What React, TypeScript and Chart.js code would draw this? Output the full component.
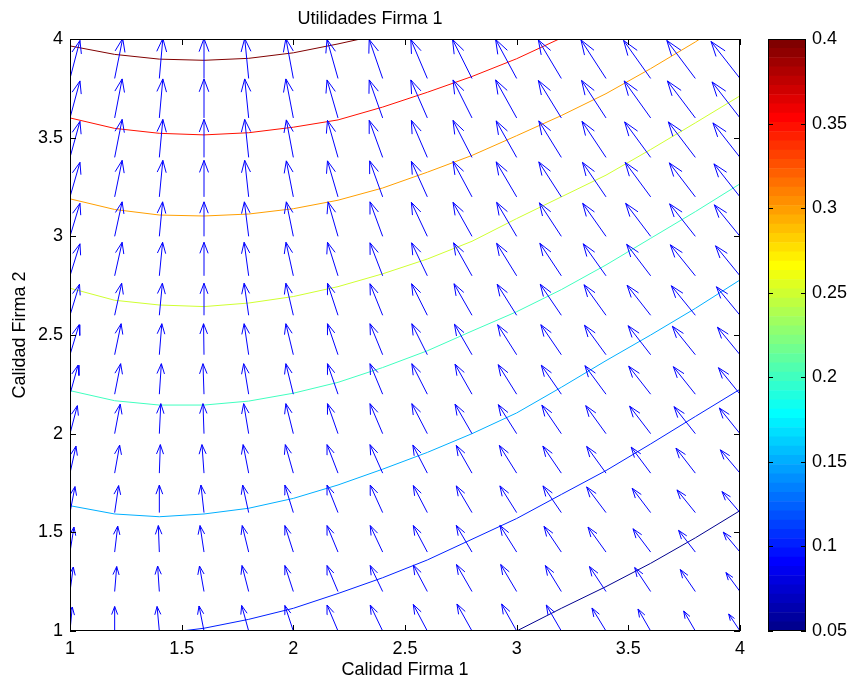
import React, { useEffect, useRef } from 'react';
import { Chart, registerables } from 'chart.js';

Chart.register(...registerables);

const FONT_FAMILY = "'Liberation Sans', Arial, Helvetica, sans-serif";
const FONT_SIZE = 18;

const TITLE = 'Utilidades Firma 1';
const X_LABEL = 'Calidad Firma 1';
const Y_LABEL = 'Calidad Firma 2';

const X_TICKS = [1, 1.5, 2, 2.5, 3, 3.5, 4];
const X_TICK_LABELS = ['1', '1.5', '2', '2.5', '3', '3.5', '4'];
const Y_TICKS = [1, 1.5, 2, 2.5, 3, 3.5, 4];
const Y_TICK_LABELS = ['1', '1.5', '2', '2.5', '3', '3.5', '4'];

const CB_MIN = 0.05;
const CB_MAX = 0.4;
const CB_COLORS = 64;
const CB_TICKS = [0.05, 0.1, 0.15, 0.2, 0.25, 0.3, 0.35, 0.4];
const CB_TICK_LABELS = ['0.05', '0.1', '0.15', '0.2', '0.25', '0.3', '0.35', '0.4'];

// contour lines (level -> points)
const LEVEL_005_X = [3.0, 3.2, 3.4, 3.6, 3.8, 4.0];
const LEVEL_005_Y = [1.0, 1.115, 1.225, 1.343, 1.472, 1.61];
const LEVEL_010_X = [1.5, 1.6, 1.8, 2.0, 2.2, 2.4, 2.6, 2.8, 3.0, 3.2, 3.4, 3.6, 3.8, 4.0];
const LEVEL_010_Y = [1.0, 1.014, 1.059, 1.115, 1.19, 1.27, 1.36, 1.465, 1.57, 1.692, 1.813, 1.948, 2.087, 2.225];
const LEVEL_015_X = [1, 1.2, 1.4, 1.6, 1.8, 2, 2.2, 2.4, 2.6, 2.8, 3, 3.2, 3.4, 3.6, 3.8, 4];
const LEVEL_015_Y = [1.635, 1.593, 1.579, 1.593, 1.622, 1.672, 1.74, 1.82, 1.905, 2.0, 2.105, 2.235, 2.37, 2.5, 2.635, 2.779];
const LEVEL_020_X = [1, 1.2, 1.4, 1.6, 1.8, 2, 2.2, 2.4, 2.6, 2.8, 3, 3.2, 3.4, 3.6, 3.8, 4];
const LEVEL_020_Y = [2.218, 2.167, 2.145, 2.145, 2.165, 2.205, 2.26, 2.335, 2.42, 2.52, 2.618, 2.73, 2.855, 2.99, 3.125, 3.266];
const LEVEL_025_X = [1, 1.2, 1.4, 1.6, 1.8, 2, 2.2, 2.4, 2.6, 2.8, 3, 3.2, 3.4, 3.6, 3.8, 4];
const LEVEL_025_Y = [2.737, 2.676, 2.652, 2.644, 2.662, 2.695, 2.745, 2.81, 2.885, 2.975, 3.09, 3.2, 3.31, 3.44, 3.575, 3.712];
const LEVEL_030_X = [1, 1.2, 1.4, 1.6, 1.8, 2, 2.2, 2.4, 2.6, 2.8, 3, 3.2, 3.4, 3.6, 3.8, 3.82];
const LEVEL_030_Y = [3.19, 3.136, 3.108, 3.103, 3.113, 3.14, 3.183, 3.245, 3.325, 3.41, 3.51, 3.612, 3.723, 3.85, 3.985, 4.0];
const LEVEL_035_X = [1, 1.2, 1.4, 1.6, 1.8, 2, 2.2, 2.4, 2.6, 2.8, 3, 3.19];
const LEVEL_035_Y = [3.6, 3.547, 3.522, 3.514, 3.525, 3.553, 3.59, 3.655, 3.73, 3.81, 3.9, 4.0];
const LEVEL_040_X = [1, 1.2, 1.4, 1.6, 1.8, 2, 2.2, 2.3];
const LEVEL_040_Y = [3.965, 3.922, 3.898, 3.892, 3.902, 3.93, 3.975, 4.0];

// quiver grid
const GRID_X = [1, 1.2, 1.4, 1.6, 1.8, 2, 2.2, 2.4, 2.6, 2.8, 3, 3.2, 3.4, 3.6, 3.8, 4];
const GRID_Y = [1, 1.2, 1.4, 1.6, 1.8, 2, 2.2, 2.4, 2.6, 2.8, 3, 3.2, 3.4, 3.6, 3.8];

// gradient components (arbitrary units), one row per GRID_Y value
const GRAD_X = [
  [2.0, 0, -2.0, -4.4, -6.2, -7.5, -9.7, -11.0, -12.4, -13.3, -13.3, -13.3, -12.4, -11.2, -10.3, -10.0],
  [2.9, 1.8, -1.5, -4.0, -5.9, -7.5, -9.7, -11.0, -12.4, -13.7, -14.1, -14.1, -14.6, -14.1, -13.3, -12.4],
  [3.5, 2.7, -0.9, -3.5, -5.7, -7.5, -9.7, -11.0, -12.4, -13.9, -14.8, -15.3, -15.9, -15.6, -14.8, -14.8],
  [4.4, 3.5, 0, -2.7, -5.3, -7.5, -9.7, -11.0, -12.4, -13.9, -14.8, -16.2, -17.1, -16.3, -16.2, -15.9],
  [5.3, 4.4, 0.9, -1.8, -4.9, -7.1, -9.7, -11.2, -12.8, -13.9, -15.3, -16.3, -17.1, -17.2, -17.1, -17.4],
  [6.5, 4.9, 1.3, -0.9, -4.4, -6.6, -9.3, -11.2, -13.7, -15.0, -16.2, -17.2, -17.9, -18.6, -18.8, -18.3],
  [7.1, 5.3, 1.8, -0.9, -4.4, -6.6, -9.3, -11.2, -13.7, -15.0, -16.3, -17.7, -18.6, -19.4, -19.4, -19.0],
  [8.0, 5.7, 2.2, -0.4, -4.0, -6.6, -9.3, -11.2, -13.7, -15.5, -16.8, -18.1, -19.0, -19.9, -20.3, -19.9],
  [8.4, 6.2, 2.7, 0, -4.0, -6.6, -9.3, -11.2, -13.9, -15.9, -17.2, -18.6, -19.4, -20.8, -21.2, -20.8],
  [8.8, 6.6, 2.9, 0, -4.0, -6.5, -9.3, -11.2, -13.9, -16.3, -17.7, -19.0, -20.1, -21.2, -22.1, -21.6],
  [8.8, 6.6, 2.9, 0, -3.8, -6.2, -8.8, -11.2, -14.1, -16.8, -17.7, -19.4, -20.6, -22.1, -22.7, -22.7],
  [8.8, 6.6, 3.1, 0, -3.5, -6.2, -9.3, -11.5, -14.1, -16.8, -18.1, -19.9, -20.8, -22.5, -23.0, -23.0],
  [8.8, 6.6, 3.1, 0, -3.5, -6.2, -9.3, -11.9, -14.1, -16.8, -18.1, -19.9, -21.2, -23.0, -23.9, -23.9],
  [8.8, 6.6, 3.1, 0, -3.5, -6.6, -9.7, -11.9, -14.6, -16.8, -18.6, -20.3, -21.6, -23.4, -24.7, -24.7],
  [8.8, 7.1, 3.1, 0, -3.5, -6.6, -9.7, -11.9, -14.6, -17.2, -18.6, -20.3, -22.1, -23.9, -25.2, -25.6],
];
const GRAD_Y = [
  [24, 24.5, 24.5, 25, 25.5, 25.5, 26, 26, 26.5, 27, 27, 26, 23, 22, 20, 17],
  [24.5, 25, 25.5, 25.5, 26, 26, 26, 26, 26.5, 27, 27, 26, 25, 24, 22, 19],
  [25, 26, 26.5, 26.5, 26.5, 26.5, 26.5, 26.5, 26.5, 26.7, 26.7, 25.7, 25, 23.3, 21.7, 20],
  [26, 27, 27.5, 27.5, 27.5, 27.5, 27.5, 27.5, 27, 26.7, 26.7, 26.7, 25.7, 24.3, 22.7, 21],
  [27, 28, 28.5, 28.5, 28.5, 28.5, 28.5, 28.5, 28, 27.7, 27.7, 27, 26.7, 26, 25, 23.3],
  [28, 29.5, 30, 30, 30, 30, 30, 30, 30, 29.5, 29, 28.5, 28, 27.5, 27, 25.7],
  [29, 30.5, 30.5, 30.5, 30.5, 30.5, 30.5, 30.5, 30.5, 30, 29.5, 29, 28.5, 28, 27.5, 26.5],
  [30, 31, 31, 31, 31, 31, 31, 31, 31, 30.5, 30, 30, 29.5, 29, 28.5, 27.5],
  [31, 32, 32, 32, 32, 32, 32, 31.5, 31.5, 31.5, 31, 31, 30.5, 30, 29.5, 28.5],
  [32, 33.5, 33.5, 33.5, 33.5, 33.5, 33.5, 33, 33, 33, 32.5, 32.5, 32, 31.5, 31, 30],
  [33, 34.5, 34.5, 34.5, 34.5, 34.5, 34.5, 34.5, 34, 34, 34, 33.5, 33, 33, 32.5, 31.5],
  [34.5, 36.5, 36.5, 36.5, 36.5, 36, 36, 36, 35.5, 35.5, 35, 35, 34.5, 34.5, 34, 33],
  [36, 38, 38, 38, 38, 37.5, 37, 37, 37, 37, 36.5, 36.5, 36, 35.5, 35.5, 34.5],
  [37, 39, 39, 39, 39, 39, 38, 38, 38, 38, 38, 37.5, 37.5, 37, 37, 36],
  [38, 40, 40, 40, 40, 40, 39, 39, 39, 39, 39, 38.5, 38.5, 38, 38, 37],
];

// quiver drawing parameters (styles)
const ARROW_SCALE = 0.005068;
const HEAD_ALPHA = 0.33;
const HEAD_BETA = 0.33;
const ARROW_COLOR = '#0000ff';
const TICK_LEN = 6;
const CB_TICK_LEN = 5;

function jet64(i: number): string {
  const c = (v: number) => Math.max(0, Math.min(1, v));
  const r = i <= 56 ? c((i - 24) / 16) : c(1 - (i - 56) / 16);
  const g = i <= 40 ? c((i - 8) / 16) : c(1 - (i - 40) / 16);
  const b = i <= 24 ? c((i + 8) / 16) : c(1 - (i - 24) / 16);
  return `rgb(${Math.round(r * 255)},${Math.round(g * 255)},${Math.round(b * 255)})`;
}

function levelColor(level: number): string {
  let idx = Math.floor(((level - CB_MIN) / (CB_MAX - CB_MIN)) * CB_COLORS + 1e-9) + 1;
  idx = Math.max(1, Math.min(CB_COLORS, idx));
  return jet64(idx);
}

const CONTOURS: { level: number; xs: number[]; ys: number[] }[] = [
  { level: 0.05, xs: LEVEL_005_X, ys: LEVEL_005_Y },
  { level: 0.1, xs: LEVEL_010_X, ys: LEVEL_010_Y },
  { level: 0.15, xs: LEVEL_015_X, ys: LEVEL_015_Y },
  { level: 0.2, xs: LEVEL_020_X, ys: LEVEL_020_Y },
  { level: 0.25, xs: LEVEL_025_X, ys: LEVEL_025_Y },
  { level: 0.3, xs: LEVEL_030_X, ys: LEVEL_030_Y },
  { level: 0.35, xs: LEVEL_035_X, ys: LEVEL_035_Y },
  { level: 0.4, xs: LEVEL_040_X, ys: LEVEL_040_Y },
];

function arrowPoints() {
  const pts: { x: number; y: number | null }[] = [];
  GRID_Y.forEach((y, r) => {
    GRID_X.forEach((x, c) => {
      const u = GRAD_X[r][c] * ARROW_SCALE;
      const v = GRAD_Y[r][c] * ARROW_SCALE;
      const tx = x + u;
      const ty = y + v;
      pts.push({ x, y }, { x: tx, y: ty }, { x: tx, y: null });
      pts.push(
        { x: tx - HEAD_ALPHA * (u + HEAD_BETA * v), y: ty - HEAD_ALPHA * (v - HEAD_BETA * u) },
        { x: tx, y: ty },
        { x: tx - HEAD_ALPHA * (u - HEAD_BETA * v), y: ty - HEAD_ALPHA * (v + HEAD_BETA * u) },
        { x: tx, y: null }
      );
    });
  });
  return pts;
}

const font = { family: FONT_FAMILY, size: FONT_SIZE, weight: 'normal' as const };

const mainFrame = {
  id: 'mainFrame',
  afterDatasetsDraw(chart: any) {
    const { ctx, chartArea: a, scales } = chart;
    ctx.save();
    ctx.strokeStyle = '#000';
    ctx.lineWidth = 1;
    ctx.beginPath();
    X_TICKS.forEach((v) => {
      const px = Math.round(scales.x.getPixelForValue(v)) + 0.5;
      ctx.moveTo(px, a.bottom);
      ctx.lineTo(px, a.bottom - TICK_LEN);
      ctx.moveTo(px, a.top);
      ctx.lineTo(px, a.top + TICK_LEN);
    });
    Y_TICKS.forEach((v) => {
      const py = Math.round(scales.y.getPixelForValue(v)) + 0.5;
      ctx.moveTo(a.left, py);
      ctx.lineTo(a.left + TICK_LEN, py);
      ctx.moveTo(a.right, py);
      ctx.lineTo(a.right - TICK_LEN, py);
    });
    ctx.stroke();
    ctx.strokeRect(a.left + 0.5, a.top + 0.5, a.right - a.left - 1, a.bottom - a.top - 1);
    ctx.restore();
  },
};

const cbFrame = {
  id: 'cbFrame',
  afterDatasetsDraw(chart: any) {
    const { ctx, chartArea: a, scales } = chart;
    ctx.save();
    ctx.strokeStyle = '#000';
    ctx.lineWidth = 1;
    ctx.beginPath();
    CB_TICKS.forEach((v) => {
      const py = Math.round(scales.y.getPixelForValue(v)) + 0.5;
      ctx.moveTo(a.left, py);
      ctx.lineTo(a.left + CB_TICK_LEN, py);
      ctx.moveTo(a.right, py);
      ctx.lineTo(a.right - CB_TICK_LEN, py);
    });
    ctx.stroke();
    ctx.strokeRect(a.left + 0.5, a.top + 0.5, a.right - a.left - 1, a.bottom - a.top - 1);
    ctx.restore();
  },
};

export default function App() {
  const mainRef = useRef<HTMLCanvasElement>(null);
  const cbRef = useRef<HTMLCanvasElement>(null);

  useEffect(() => {
    const datasets: any[] = CONTOURS.map((c) => ({
      label: String(c.level),
      data: c.xs.map((x, i) => ({ x, y: c.ys[i] })),
      showLine: true,
      borderColor: levelColor(c.level),
      backgroundColor: levelColor(c.level),
      borderWidth: 1,
      pointRadius: 0,
      pointHoverRadius: 0,
      fill: false,
      order: 1,
    }));
    datasets.push({
      label: 'quiver',
      data: arrowPoints(),
      showLine: true,
      spanGaps: false,
      borderColor: ARROW_COLOR,
      backgroundColor: ARROW_COLOR,
      borderWidth: 1,
      pointRadius: 0,
      pointHoverRadius: 0,
      fill: false,
      order: 0,
    });

    const main = new Chart(mainRef.current as HTMLCanvasElement, {
      type: 'scatter',
      data: { datasets },
      options: {
        responsive: false,
        animation: false,
        events: [],
        layout: { padding: { left: 0, right: 70, top: 0, bottom: 0 } },
        plugins: {
          legend: { display: false },
          tooltip: { enabled: false },
          title: {
            display: true,
            text: TITLE,
            color: '#000',
            font,
            padding: { top: 8, bottom: 9.4 },
          },
        },
        scales: {
          x: {
            type: 'linear',
            min: 1,
            max: 4,
            afterBuildTicks: (s: any) => {
              s.ticks = X_TICKS.map((v) => ({ value: v }));
            },
            afterFit: (s: any) => {
              s.height = 57;
            },
            ticks: {
              autoSkip: false,
              maxRotation: 0,
              padding: 7,
              color: '#000',
              font,
              callback: (v: any) => X_TICK_LABELS[X_TICKS.indexOf(Number(v))],
            },
            grid: { display: false, drawTicks: false },
            border: { display: false },
            title: { display: true, text: X_LABEL, color: '#000', font, padding: { top: 0, bottom: 7 } },
          },
          y: {
            type: 'linear',
            min: 1,
            max: 4,
            afterBuildTicks: (s: any) => {
              s.ticks = Y_TICKS.map((v) => ({ value: v }));
            },
            afterFit: (s: any) => {
              s.width = 70;
            },
            ticks: {
              autoSkip: false,
              padding: 7,
              color: '#000',
              font,
              callback: (v: any) => Y_TICK_LABELS[Y_TICKS.indexOf(Number(v))],
            },
            grid: { display: false, drawTicks: false },
            border: { display: false },
            title: { display: true, text: Y_LABEL, color: '#000', font, padding: { top: 9.5, bottom: 0 } },
          },
        },
      } as any,
      plugins: [mainFrame],
    });

    const bandStep = (CB_MAX - CB_MIN) / CB_COLORS;
    const bandSets = Array.from({ length: CB_COLORS }, (_, k) => ({
      data: [[CB_MIN + k * bandStep, CB_MIN + (k + 1) * bandStep]],
      backgroundColor: jet64(k + 1),
      borderWidth: 0,
      barPercentage: 1,
      categoryPercentage: 1,
      grouped: false,
    }));

    const cb = new Chart(cbRef.current as HTMLCanvasElement, {
      type: 'bar',
      data: { labels: [''], datasets: bandSets as any },
      options: {
        responsive: false,
        animation: false,
        events: [],
        layout: { padding: { left: 28, right: 0, top: 39, bottom: 57 } },
        plugins: { legend: { display: false }, tooltip: { enabled: false }, title: { display: false } },
        scales: {
          x: { display: false },
          y: {
            position: 'right',
            min: CB_MIN,
            max: CB_MAX,
            afterBuildTicks: (s: any) => {
              s.ticks = CB_TICKS.map((v) => ({ value: v }));
            },
            afterFit: (s: any) => {
              s.width = 50;
            },
            ticks: {
              autoSkip: false,
              padding: 6,
              color: '#000',
              font,
              callback: (v: any) => {
                const i = CB_TICKS.findIndex((t) => Math.abs(t - Number(v)) < 1e-9);
                return i >= 0 ? CB_TICK_LABELS[i] : '';
              },
            },
            grid: { display: false, drawTicks: false },
            border: { display: false },
          },
        },
      } as any,
      plugins: [cbFrame],
    });

    return () => {
      main.destroy();
      cb.destroy();
    };
  }, []);

  return (
    <div style={{ position: 'absolute', left: 0, top: 0, width: 856, height: 688, background: '#fff' }}>
      <canvas
        ref={mainRef}
        width={810}
        height={688}
        style={{ position: 'absolute', left: 0, top: 0, width: 810, height: 688 }}
      />
      <canvas
        ref={cbRef}
        width={116}
        height={688}
        style={{ position: 'absolute', left: 740, top: 0, width: 116, height: 688 }}
      />
    </div>
  );
}
